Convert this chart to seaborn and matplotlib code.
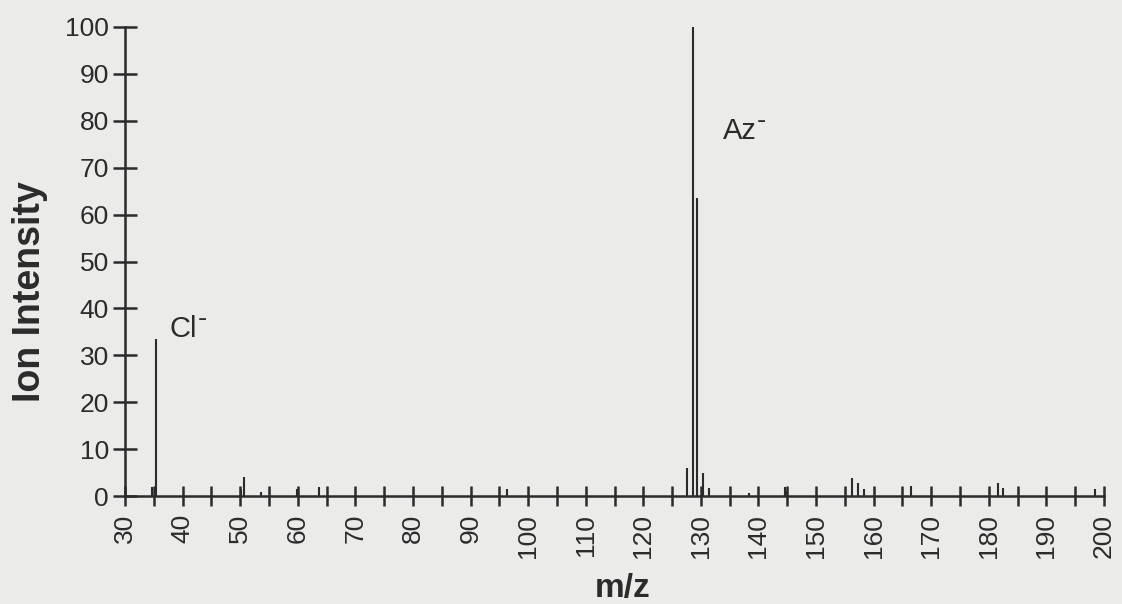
import numpy as np
import pandas as pd
import matplotlib
matplotlib.use("Agg")
import matplotlib.pyplot as plt
import seaborn as sns
from matplotlib.ticker import MultipleLocator

# ---- data ----
mz = [34.7, 35.4, 50.1, 50.7, 53.6, 59.8, 63.7, 96.4,
      127.5, 128.6, 129.3, 130.4, 131.4, 138.4, 144.6, 145.0,
      156.3, 157.3, 158.3, 166.4, 181.5, 182.5, 198.4]
intensity = [1.9, 33.5, 1.3, 4.1, 0.9, 1.6, 2.0, 1.6,
             6.0, 100.0, 63.5, 5.0, 1.7, 0.7, 1.9, 1.0,
             3.8, 2.8, 1.6, 2.1, 2.7, 1.8, 1.6]
x_ticks = list(range(30, 201, 10))
y_ticks = list(range(0, 101, 10))
ion_names = ["Cl", "Az"]
ion_charge = ["-", "-"]
label_pos = [(37.8, 33.9), (133.8, 76.1)]

df = pd.DataFrame({"mz": mz, "intensity": intensity})

sns.set_theme(style="ticks")
plt.rcParams["font.family"] = ["Liberation Sans", "DejaVu Sans"]

bg = "#ebebea"
ink = "#2b2b2b"

fig = plt.figure(figsize=(11.22, 6.04), dpi=100, facecolor=bg)
ax = fig.add_axes([0.1114, 0.1788, 0.8726, 0.7765])
ax.set_facecolor(bg)

ax.vlines(df["mz"], 0, df["intensity"], color=ink, linewidth=1.5)

ax.set_xlim(30, 200)
ax.set_ylim(0, 100)
sns.despine(ax=ax)
for s in ["left", "bottom"]:
    ax.spines[s].set_color(ink)
    ax.spines[s].set_linewidth(1.8)

ax.set_xticks(x_ticks)
ax.xaxis.set_minor_locator(MultipleLocator(5))
ax.set_yticks(y_ticks)
ax.tick_params(axis="x", which="both", direction="inout", length=14, width=1.8,
               color=ink, labelsize=19, labelcolor=ink, labelrotation=90, pad=6)
ax.tick_params(axis="y", which="both", direction="inout", length=17, width=1.8,
               color=ink, labelsize=19, labelcolor=ink, pad=3)
for t in ax.get_xticklines() + ax.get_yticklines() + ax.xaxis.get_minorticklines():
    t.set_clip_on(False)

ax.set_xlabel("m/z", fontsize=24, fontweight="bold", color=ink)
ax.set_ylabel("Ion Intensity", fontsize=27, fontweight="bold", color=ink)
ax.yaxis.set_label_coords(-0.079, 0.435)
ax.xaxis.set_label_coords(0.508, -0.165)

for name, charge, (x, y) in zip(ion_names, ion_charge, label_pos):
    t = ax.text(x, y, name, fontsize=21, color=ink, ha="left", va="baseline")
    ax.annotate(charge, xy=(1.0, 0.0), xycoords=t, xytext=(0.3, 12.0),
                textcoords="offset points", fontsize=20, color=ink,
                ha="left", va="baseline")

fig.savefig("out.png", dpi=100, facecolor=bg)
